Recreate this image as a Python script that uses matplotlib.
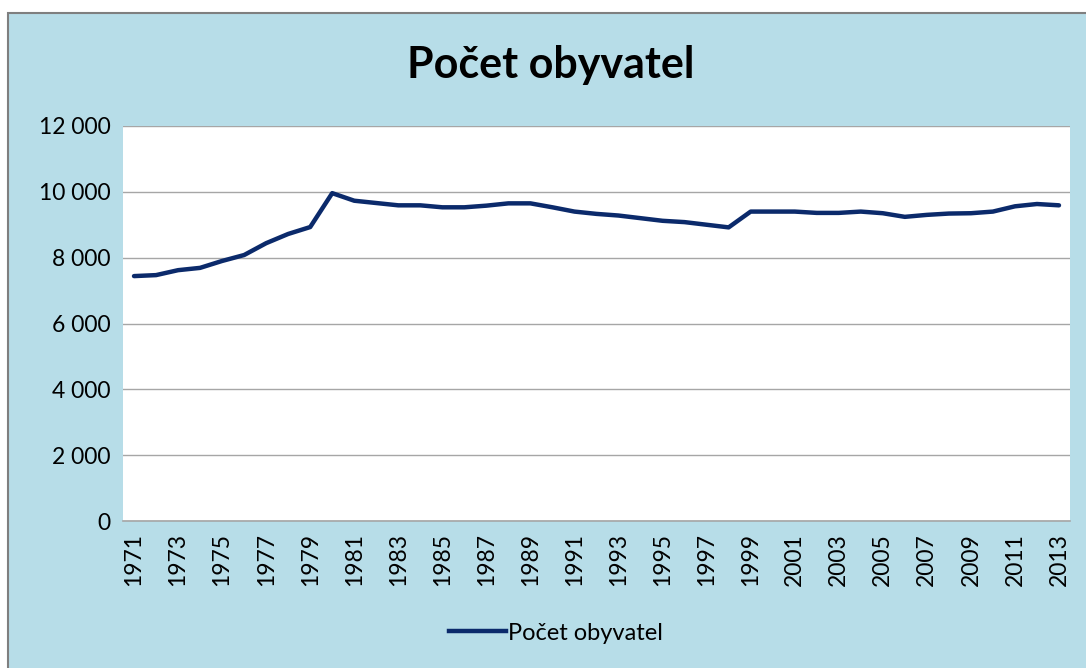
import matplotlib.pyplot as plt
from matplotlib.patches import Rectangle
from matplotlib.lines import Line2D

plt.rcParams['font.family'] = ['Lato', 'DejaVu Sans']

# --- Data ---
years = list(range(1971, 2014))
population = [7440, 7470, 7620, 7690, 7900, 8080, 8440, 8720, 8930, 9960,
              9730, 9660, 9590, 9590, 9530, 9530, 9580, 9650, 9650, 9530,
              9400, 9330, 9280, 9200, 9120, 9080, 9000, 8920, 9400, 9400,
              9400, 9360, 9360, 9400, 9350, 9240, 9300, 9340, 9350, 9400,
              9560, 9630, 9590]
y_ticks = [0, 2000, 4000, 6000, 8000, 10000, 12000]
y_labels = ['0', '2 000', '4 000', '6 000', '8 000', '10 000', '12 000']

bg = '#b7dde8'
navy = '#0b2a6b'

fig = plt.figure(figsize=(10.86, 6.68), dpi=100)
fig.patch.set_facecolor('white')

# chart area background with grey frame (only top and left edges visible)
fig.patches.append(Rectangle((8 / 1086, -0.05), 1.1, 1.05 - 13 / 668,
                             transform=fig.transFigure, facecolor=bg,
                             edgecolor='#7f7f7f', linewidth=1.5, zorder=-1))

ax = fig.add_axes([123 / 1086, 1 - 521 / 668, (1070 - 123) / 1086, (521 - 126) / 668])
ax.set_facecolor('white')

x = list(range(len(years)))
ax.plot(x, population, color=navy, linewidth=3.2, solid_capstyle='round',
        solid_joinstyle='round')

ax.set_xlim(-0.5, len(years) - 0.5)
ax.set_ylim(0, 12000)
ax.set_yticks(y_ticks)
ax.set_yticklabels(y_labels, fontsize=16.5)
ax.set_xticks(x[::2])
ax.set_xticklabels([str(y) for y in years[::2]], rotation=90, fontsize=16.5)
ax.tick_params(axis='both', length=0, pad=9)
ax.grid(axis='y', color='#a6a6a6', linewidth=1)
ax.set_axisbelow(True)
for side in ['left', 'right', 'top']:
    ax.spines[side].set_visible(False)
ax.spines['bottom'].set_color('#a6a6a6')
ax.spines['bottom'].set_linewidth(1.2)

fig.text(0.507, 1 - 65 / 668, 'Počet obyvatel', ha='center', va='center',
         fontsize=31, fontweight='bold')

handle = Line2D([], [], color=navy, linewidth=3.2)
fig.legend([handle], ['Počet obyvatel'], loc='center',
           bbox_to_anchor=(0.512, 1 - 633 / 668), frameon=False, fontsize=17,
           handlelength=2.4, handletextpad=0.1)

fig.savefig('out.png', dpi=100, facecolor=fig.get_facecolor())
